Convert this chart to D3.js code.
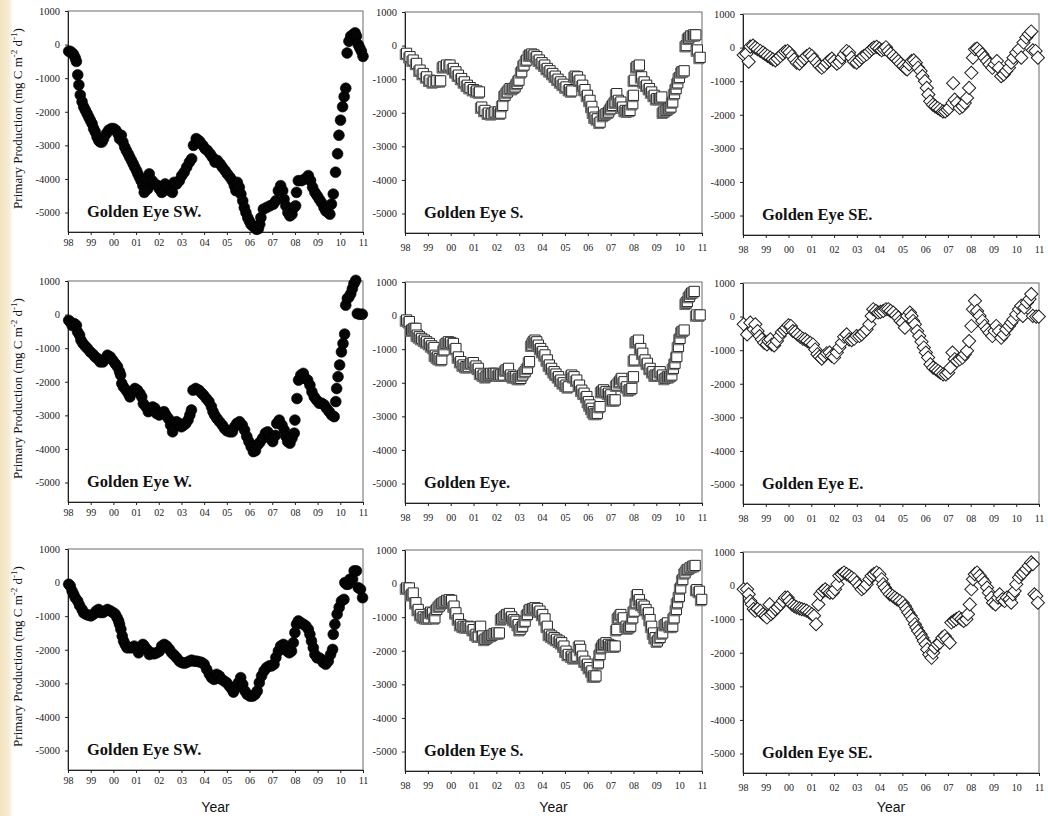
<!DOCTYPE html>
<html>
<head>
<meta charset="utf-8">
<script src="https://cdn.jsdelivr.net/npm/d3@7"></script>
<style>
  html, body { margin: 0; padding: 0; background: #ffffff; }
  svg { display: block; }
</style>
</head>
<body>
<svg id="chart" width="1048" height="816"></svg>
<script>
// ---- axis ticks ----
const yearTicks = d3.range(1998, 2012);
const valueTicks = [1000, 0, -1000, -2000, -3000, -4000, -5000];
const valueDomain = [-5580, 1000];

// ---- panel titles (row by row) ----
const panelTitles = [
  "Golden Eye SW.", "Golden Eye S.", "Golden Eye SE.",
  "Golden Eye W.", "Golden Eye.", "Golden Eye E.",
  "Golden Eye SW.", "Golden Eye S.", "Golden Eye SE."
];

// ---- series: [decimal year, primary production (mg C m-2 d-1)] ----
const swTop = [
[1998.03,-200],[1998.10,-200],[1998.18,-250],[1998.25,-300],[1998.32,-400],[1998.37,-500],[1998.43,-900],[1998.48,-1200],
[1998.54,-1500],[1998.62,-1700],[1998.69,-1850],[1998.76,-1950],[1998.84,-2050],[1998.91,-2150],[1998.98,-2250],[1999.06,-2350],
[1999.13,-2500],[1999.20,-2600],[1999.28,-2750],[1999.35,-2850],[1999.42,-2900],[1999.50,-2900],[1999.57,-2800],[1999.69,-2650],
[1999.79,-2550],[1999.91,-2500],[2000.01,-2500],[2000.11,-2550],[2000.20,-2650],[2000.27,-2800],[2000.35,-2700],[2000.42,-2900],
[2000.50,-3050],[2000.57,-3150],[2000.65,-3250],[2000.72,-3350],[2000.80,-3450],[2000.87,-3550],[2000.94,-3650],[2001.02,-3750],
[2001.08,-3850],[2001.15,-3950],[2001.22,-4050],[2001.30,-4200],[2001.36,-4400],[2001.45,-4000],[2001.51,-4300],[2001.58,-3850],
[2001.70,-4050],[2001.84,-4150],[2001.94,-4200],[2002.03,-4300],[2002.13,-4400],[2002.21,-4350],[2002.28,-4150],[2002.38,-4250],
[2002.50,-4350],[2002.60,-4400],[2002.68,-4100],[2002.79,-4150],[2002.91,-4050],[2003.01,-3900],[2003.12,-3800],[2003.23,-3650],
[2003.35,-3500],[2003.45,-3400],[2003.53,-3000],[2003.65,-2800],[2003.75,-2850],[2003.82,-2900],[2003.94,-3000],[2004.04,-3100],
[2004.14,-3150],[2004.26,-3250],[2004.36,-3350],[2004.48,-3500],[2004.58,-3450],[2004.70,-3550],[2004.80,-3650],[2004.92,-3750],
[2005.02,-3850],[2005.14,-3950],[2005.24,-4050],[2005.33,-4200],[2005.40,-4350],[2005.46,-4100],[2005.55,-4250],[2005.62,-4450],
[2005.70,-4650],[2005.77,-4850],[2005.84,-5000],[2005.92,-5150],[2005.99,-5250],[2006.06,-5350],[2006.14,-5400],[2006.23,-5450],
[2006.31,-5500],[2006.39,-5480],[2006.45,-5350],[2006.50,-5150],[2006.61,-4900],[2006.75,-4850],[2006.90,-4800],[2007.05,-4750],
[2007.16,-4650],[2007.27,-4350],[2007.37,-4200],[2007.46,-4350],[2007.52,-4600],[2007.60,-4800],[2007.69,-5000],[2007.78,-5100],
[2007.87,-5050],[2007.96,-4850],[2008.03,-4800],[2008.07,-4400],[2008.15,-4050],[2008.29,-4050],[2008.44,-4000],[2008.59,-3900],
[2008.69,-4050],[2008.78,-4250],[2008.88,-4400],[2008.98,-4500],[2009.07,-4600],[2009.17,-4700],[2009.28,-4850],[2009.36,-4950],
[2009.47,-5000],[2009.54,-5050],[2009.61,-4750],[2009.69,-4450],[2009.79,-3800],[2009.88,-3250],[2009.94,-2700],[2010.01,-2250],
[2010.10,-1850],[2010.17,-1550],[2010.24,-1300],[2010.30,-250],[2010.38,100],[2010.46,250],[2010.57,300],[2010.65,350],
[2010.71,250],[2010.79,0],[2010.86,-100],[2010.93,-200],[2011.00,-350]
];

const sTop = [
[1998.07,-230],[1998.22,-330],[1998.36,-430],[1998.51,-530],[1998.66,-730],[1998.80,-830],[1998.95,-930],[1999.09,-1030],
[1999.24,-1080],[1999.39,-1050],[1999.56,-1050],[1999.68,-630],[1999.82,-580],[1999.97,-580],[2000.12,-680],[2000.23,-780],
[2000.34,-880],[2000.48,-980],[2000.60,-1080],[2000.73,-1180],[2000.85,-1250],[2001.00,-1310],[2001.14,-1350],[2001.26,-1380],
[2001.36,-1830],[2001.50,-1930],[2001.65,-2010],[2001.80,-2030],[2001.94,-1980],[2002.09,-1980],[2002.19,-2010],[2002.28,-1780],
[2002.38,-1480],[2002.48,-1380],[2002.60,-1280],[2002.72,-1280],[2002.82,-1230],[2002.91,-1130],[2002.99,-1030],[2003.11,-780],
[2003.21,-580],[2003.33,-430],[2003.45,-280],[2003.55,-250],[2003.65,-280],[2003.77,-330],[2003.88,-430],[2004.00,-510],
[2004.12,-580],[2004.23,-680],[2004.35,-750],[2004.47,-830],[2004.58,-910],[2004.70,-1000],[2004.82,-1080],[2004.93,-1150],
[2005.05,-1230],[2005.20,-1310],[2005.30,-1350],[2005.45,-910],[2005.55,-930],[2005.66,-1030],[2005.78,-1180],[2005.88,-1310],
[2005.99,-1480],[2006.10,-1630],[2006.18,-1810],[2006.25,-1980],[2006.32,-2130],[2006.42,-2180],[2006.54,-2280],[2006.69,-2080],
[2006.80,-2030],[2006.91,-1980],[2007.01,-1880],[2007.09,-1780],[2007.20,-1680],[2007.27,-1430],[2007.34,-1630],[2007.45,-1680],
[2007.53,-1830],[2007.64,-1930],[2007.74,-1950],[2007.85,-1930],[2007.97,-1730],[2008.00,-1480],[2008.04,-1030],[2008.15,-630],
[2008.26,-580],[2008.36,-930],[2008.47,-1080],[2008.58,-1180],[2008.70,-1280],[2008.80,-1380],[2008.91,-1480],[2009.02,-1580],
[2009.14,-1580],[2009.24,-1530],[2009.31,-1980],[2009.43,-1930],[2009.53,-1880],[2009.64,-1830],[2009.72,-1680],[2009.80,-1430],
[2009.87,-1280],[2009.94,-1110],[2010.01,-950],[2010.12,-780],[2010.22,-750],[2010.31,0],[2010.41,220],[2010.51,290],
[2010.63,320],[2010.73,320],[2010.80,-130],[2010.92,-350]
];

const seTop = [
[1998.03,-220],[1998.15,-180],[1998.25,-420],[1998.32,30],[1998.44,60],[1998.54,0],[1998.64,-50],[1998.76,-100],
[1998.88,-150],[1998.98,-200],[1999.08,-250],[1999.20,-300],[1999.31,-350],[1999.42,-380],[1999.52,-330],[1999.64,-250],
[1999.75,-180],[1999.85,-120],[1999.96,-100],[2000.04,-150],[2000.15,-250],[2000.25,-350],[2000.36,-450],[2000.48,-480],
[2000.58,-400],[2000.69,-320],[2000.80,-250],[2000.92,-200],[2001.02,-250],[2001.12,-350],[2001.24,-450],[2001.36,-550],
[2001.46,-600],[2001.56,-550],[2001.68,-450],[2001.80,-380],[2001.90,-330],[2002.00,-400],[2002.12,-480],[2002.23,-430],
[2002.34,-300],[2002.44,-200],[2002.55,-100],[2002.66,-150],[2002.77,-300],[2002.88,-420],[2002.99,-450],[2003.11,-380],
[2003.21,-300],[2003.31,-250],[2003.43,-200],[2003.55,-120],[2003.65,-50],[2003.75,0],[2003.87,20],[2003.99,-30],
[2004.09,-80],[2004.19,-50],[2004.28,10],[2004.38,-100],[2004.48,-180],[2004.60,-250],[2004.72,-330],[2004.82,-400],
[2004.92,-480],[2005.04,-550],[2005.14,-620],[2005.21,-650],[2005.30,-500],[2005.40,-400],[2005.50,-380],[2005.59,-450],
[2005.69,-600],[2005.80,-700],[2005.88,-850],[2005.99,-1000],[2006.07,-1200],[2006.14,-1400],[2006.22,-1600],[2006.34,-1700],
[2006.44,-1750],[2006.55,-1800],[2006.66,-1850],[2006.78,-1900],[2006.88,-1900],[2006.98,-1850],[2007.05,-1800],[2007.23,-1060],
[2007.20,-1650],[2007.30,-1550],[2007.40,-1650],[2007.52,-1800],[2007.64,-1750],[2007.74,-1650],[2007.84,-1500],[2007.93,-1200],
[2008.03,-750],[2008.10,-300],[2008.19,-50],[2008.28,-30],[2008.39,-100],[2008.51,-200],[2008.61,-300],[2008.72,-400],
[2008.83,-500],[2008.95,-600],[2009.05,-500],[2009.15,-400],[2009.24,-600],[2009.34,-850],[2009.45,-800],[2009.56,-700],
[2009.68,-600],[2009.78,-450],[2009.88,-300],[2010.00,-150],[2010.12,-50],[2010.22,-300],[2010.32,150],[2010.44,300],
[2010.55,400],[2010.66,480],[2010.73,-80],[2010.85,-100],[2010.95,-300]
];

const wMid = [
[1998.03,-170],[1998.10,-220],[1998.18,-320],[1998.28,-270],[1998.37,-320],[1998.42,-510],[1998.51,-610],[1998.57,-760],
[1998.66,-860],[1998.76,-940],[1998.86,-1010],[1998.98,-1110],[1999.10,-1180],[1999.20,-1260],[1999.30,-1310],[1999.42,-1410],
[1999.54,-1410],[1999.64,-1310],[1999.74,-1210],[1999.86,-1260],[1999.97,-1360],[2000.08,-1460],[2000.18,-1550],[2000.27,-1700],
[2000.32,-1800],[2000.37,-2050],[2000.44,-2150],[2000.56,-2250],[2000.66,-2350],[2000.73,-2450],[2000.85,-2300],[2000.95,-2200],
[2001.06,-2250],[2001.17,-2350],[2001.25,-2450],[2001.32,-2650],[2001.44,-2750],[2001.54,-2890],[2001.64,-2840],[2001.73,-2750],
[2001.83,-2790],[2001.90,-2940],[2002.02,-2990],[2002.12,-2940],[2002.23,-2890],[2002.31,-2990],[2002.42,-3090],[2002.52,-3290],
[2002.61,-3490],[2002.69,-3290],[2002.78,-3190],[2002.90,-3240],[2003.00,-3340],[2003.10,-3290],[2003.19,-3240],[2003.29,-3140],
[2003.37,-2990],[2003.44,-2840],[2003.51,-2250],[2003.63,-2200],[2003.77,-2250],[2003.88,-2330],[2003.98,-2400],[2004.10,-2500],
[2004.21,-2590],[2004.32,-2740],[2004.39,-2890],[2004.46,-2990],[2004.56,-3090],[2004.68,-3190],[2004.80,-3290],[2004.90,-3390],
[2005.00,-3460],[2005.12,-3490],[2005.24,-3490],[2005.34,-3340],[2005.44,-3240],[2005.56,-3190],[2005.68,-3290],[2005.78,-3440],
[2005.88,-3630],[2005.97,-3780],[2006.07,-3930],[2006.17,-4080],[2006.26,-4050],[2006.36,-3880],[2006.46,-3800],[2006.58,-3680],
[2006.70,-3530],[2006.80,-3490],[2006.90,-3680],[2007.02,-3780],[2007.14,-3600],[2007.20,-3240],[2007.31,-3140],[2007.43,-3290],
[2007.53,-3440],[2007.61,-3630],[2007.68,-3780],[2007.78,-3830],[2007.87,-3680],[2007.97,-3530],[2008.00,-3140],[2008.09,-2500],
[2008.16,-1950],[2008.26,-1800],[2008.37,-1750],[2008.45,-1900],[2008.56,-1950],[2008.66,-2100],[2008.75,-2300],[2008.85,-2450],
[2008.95,-2540],[2009.07,-2640],[2009.18,-2640],[2009.29,-2690],[2009.39,-2790],[2009.51,-2890],[2009.62,-2990],[2009.73,-3040],
[2009.80,-2590],[2009.84,-2200],[2009.90,-1850],[2009.97,-1500],[2010.05,-1110],[2010.12,-860],[2010.19,-580],[2010.24,280],
[2010.31,480],[2010.38,520],[2010.46,620],[2010.53,770],[2010.60,920],[2010.68,1020],[2010.75,30],[2010.85,10],[2010.97,10]
];

const allMid = [
[1998.07,-130],[1998.19,-180],[1998.29,-430],[1998.39,-380],[1998.48,-380],[1998.54,-580],[1998.63,-630],[1998.73,-680],
[1998.85,-730],[1998.95,-780],[1999.07,-830],[1999.17,-900],[1999.27,-950],[1999.33,-1180],[1999.42,-1230],[1999.50,-1280],
[1999.61,-1310],[1999.71,-1020],[1999.80,-830],[1999.90,-780],[2000.00,-800],[2000.12,-830],[2000.23,-980],[2000.34,-1230],
[2000.44,-1370],[2000.55,-1470],[2000.67,-1520],[2000.77,-1520],[2000.88,-1420],[2000.99,-1400],[2001.11,-1500],[2001.21,-1570],
[2001.31,-1720],[2001.43,-1770],[2001.55,-1820],[2001.65,-1770],[2001.75,-1720],[2001.87,-1720],[2001.99,-1720],[2002.09,-1770],
[2002.19,-1770],[2002.31,-1770],[2002.42,-1620],[2002.53,-1570],[2002.63,-1770],[2002.74,-1820],[2002.85,-1820],[2002.96,-1870],
[2003.07,-1870],[2003.15,-1770],[2003.26,-1670],[2003.36,-1570],[2003.45,-1370],[2003.55,-880],[2003.62,-780],[2003.69,-730],
[2003.77,-780],[2003.84,-880],[2003.94,-980],[2004.03,-1070],[2004.13,-1170],[2004.23,-1320],[2004.32,-1470],[2004.42,-1570],
[2004.53,-1670],[2004.61,-1740],[2004.72,-1820],[2004.82,-1920],[2004.93,-2000],[2005.05,-2070],[2005.15,-2120],[2005.30,-1770],
[2005.40,-1820],[2005.52,-1920],[2005.64,-2070],[2005.74,-2220],[2005.84,-2310],[2005.96,-2410],[2006.03,-2560],[2006.10,-2660],
[2006.18,-2760],[2006.25,-2860],[2006.32,-2910],[2006.42,-2910],[2006.54,-2710],[2006.61,-2260],[2006.69,-2210],[2006.80,-2260],
[2006.91,-2310],[2007.01,-2360],[2007.09,-2510],[2007.20,-2510],[2007.27,-2070],[2007.39,-1970],[2007.49,-1870],[2007.59,-1970],
[2007.71,-2120],[2007.82,-2210],[2007.93,-2170],[2008.00,-1820],[2008.04,-1320],[2008.12,-780],[2008.22,-730],[2008.32,-980],
[2008.41,-1120],[2008.51,-1320],[2008.61,-1420],[2008.73,-1570],[2008.85,-1670],[2008.95,-1770],[2009.05,-1770],[2009.17,-1670],
[2009.28,-1770],[2009.39,-1870],[2009.49,-1820],[2009.58,-1820],[2009.68,-1770],[2009.75,-1570],[2009.82,-1420],[2009.90,-1220],
[2009.97,-920],[2010.04,-680],[2010.12,-480],[2010.22,-430],[2010.31,370],[2010.36,420],[2010.45,570],[2010.55,670],
[2010.66,720],[2010.77,20],[2010.92,20]
];

const eMid = [
[1998.03,-230],[1998.18,-530],[1998.32,-180],[1998.47,-380],[1998.54,-230],[1998.64,-430],[1998.73,-580],[1998.83,-680],
[1998.93,-780],[1999.05,-830],[1999.12,-730],[1999.20,-680],[1999.27,-830],[1999.37,-860],[1999.49,-730],[1999.61,-580],
[1999.71,-460],[1999.81,-400],[1999.90,-330],[2000.00,-260],[2000.10,-280],[2000.19,-430],[2000.29,-460],[2000.39,-530],
[2000.51,-600],[2000.63,-660],[2000.73,-680],[2000.83,-730],[2000.95,-780],[2001.07,-830],[2001.17,-980],[2001.27,-1120],
[2001.36,-1190],[2001.46,-1250],[2001.56,-1170],[2001.68,-1090],[2001.80,-1070],[2001.90,-1170],[2002.00,-1220],[2002.12,-1070],
[2002.23,-920],[2002.34,-780],[2002.44,-600],[2002.55,-530],[2002.66,-680],[2002.77,-700],[2002.88,-660],[2002.99,-580],
[2003.11,-580],[2003.21,-530],[2003.31,-460],[2003.43,-380],[2003.55,-230],[2003.65,20],[2003.72,220],[2003.84,170],
[2003.94,120],[2004.04,140],[2004.16,170],[2004.28,220],[2004.38,220],[2004.48,170],[2004.60,120],[2004.72,40],
[2004.82,-30],[2004.92,-130],[2005.01,-180],[2005.11,-330],[2005.21,20],[2005.33,120],[2005.40,20],[2005.47,-130],
[2005.55,-230],[2005.65,-430],[2005.74,-580],[2005.84,-750],[2005.94,-920],[2006.03,-1070],[2006.13,-1220],[2006.23,-1420],
[2006.35,-1520],[2006.47,-1570],[2006.57,-1620],[2006.67,-1670],[2006.79,-1720],[2006.91,-1720],[2007.01,-1670],[2007.11,-1520],
[2007.20,-1070],[2007.30,-1270],[2007.40,-1320],[2007.52,-1270],[2007.64,-1220],[2007.74,-1120],[2007.84,-1020],[2007.93,-730],
[2008.03,-280],[2008.10,220],[2008.19,470],[2008.28,170],[2008.39,20],[2008.51,-130],[2008.61,-280],[2008.72,-380],
[2008.83,-480],[2008.95,-580],[2009.05,-430],[2009.12,-280],[2009.24,-430],[2009.34,-630],[2009.45,-530],[2009.56,-380],
[2009.68,-280],[2009.78,-180],[2009.88,-80],[2010.00,70],[2010.12,220],[2010.22,320],[2010.29,20],[2010.36,270],
[2010.47,420],[2010.58,520],[2010.66,670],[2010.73,20],[2010.88,0],[2010.99,0]
];

const swBottom = [
[1998.03,-50],[1998.10,-100],[1998.18,-250],[1998.25,-350],[1998.32,-450],[1998.43,-550],[1998.51,-680],[1998.62,-800],
[1998.69,-900],[1998.81,-950],[1998.91,-970],[1999.01,-990],[1999.13,-940],[1999.25,-840],[1999.35,-800],[1999.42,-890],
[1999.54,-890],[1999.64,-840],[1999.74,-800],[1999.86,-840],[1999.98,-890],[2000.08,-940],[2000.16,-1040],[2000.23,-1140],
[2000.27,-1240],[2000.33,-1390],[2000.39,-1590],[2000.45,-1740],[2000.52,-1840],[2000.60,-1940],[2000.71,-1940],[2000.82,-1940],
[2000.92,-1890],[2001.04,-1940],[2001.11,-2090],[2001.18,-1940],[2001.30,-1840],[2001.36,-1890],[2001.48,-1990],[2001.59,-2140],
[2001.70,-2090],[2001.80,-2120],[2001.91,-2090],[2002.03,-2040],[2002.13,-1890],[2002.24,-1840],[2002.35,-1890],[2002.47,-1990],
[2002.57,-2090],[2002.68,-2160],[2002.79,-2240],[2002.91,-2340],[2003.01,-2380],[2003.12,-2400],[2003.23,-2380],[2003.35,-2340],
[2003.45,-2310],[2003.56,-2340],[2003.67,-2340],[2003.79,-2360],[2003.89,-2380],[2004.00,-2430],[2004.11,-2580],[2004.23,-2730],
[2004.33,-2830],[2004.44,-2880],[2004.55,-2730],[2004.67,-2780],[2004.77,-2880],[2004.88,-2930],[2004.99,-2980],[2005.11,-3080],
[2005.21,-3160],[2005.29,-3260],[2005.40,-3130],[2005.51,-2980],[2005.61,-2830],[2005.70,-3030],[2005.80,-3230],[2005.90,-3330],
[2006.02,-3380],[2006.14,-3380],[2006.24,-3330],[2006.34,-3230],[2006.43,-2980],[2006.53,-2780],[2006.64,-2630],[2006.75,-2530],
[2006.87,-2480],[2006.97,-2480],[2007.08,-2430],[2007.16,-2230],[2007.27,-2040],[2007.37,-1890],[2007.49,-1840],[2007.60,-1890],
[2007.66,-2040],[2007.75,-2090],[2007.85,-2040],[2007.93,-1790],[2008.00,-1490],[2008.07,-1240],[2008.15,-1140],[2008.25,-1190],
[2008.37,-1240],[2008.48,-1290],[2008.59,-1390],[2008.66,-1540],[2008.73,-1740],[2008.81,-1940],[2008.88,-2140],[2008.98,-2240],
[2009.07,-2240],[2009.17,-2290],[2009.25,-2380],[2009.36,-2430],[2009.47,-2340],[2009.57,-2140],[2009.66,-1990],[2009.69,-1540],
[2009.76,-1240],[2009.86,-940],[2009.95,-740],[2010.05,-550],[2010.16,-500],[2010.20,0],[2010.27,-50],[2010.35,-50],
[2010.42,100],[2010.54,100],[2010.61,350],[2010.71,350],[2010.79,-150],[2010.89,-200],[2010.98,-450]
];

const sBottom = [
[1998.07,-130],[1998.19,-130],[1998.29,-330],[1998.36,-280],[1998.48,-570],[1998.58,-770],[1998.69,-920],[1998.80,-990],
[1998.92,-1020],[1999.02,-1020],[1999.12,-850],[1999.21,-870],[1999.31,-1020],[1999.39,-770],[1999.50,-670],[1999.61,-590],
[1999.71,-550],[1999.82,-500],[1999.94,-480],[2000.04,-500],[2000.15,-670],[2000.23,-870],[2000.34,-1050],[2000.44,-1220],
[2000.55,-1270],[2000.67,-1290],[2000.77,-1270],[2000.88,-1290],[2000.99,-1370],[2001.11,-1510],[2001.21,-1560],[2001.31,-1270],
[2001.40,-1560],[2001.50,-1660],[2001.61,-1610],[2001.69,-1560],[2001.80,-1540],[2001.90,-1490],[2002.01,-1470],[2002.13,-1470],
[2002.23,-1050],[2002.34,-990],[2002.45,-920],[2002.57,-890],[2002.67,-990],[2002.77,-1070],[2002.86,-1120],[2002.96,-1220],
[2003.04,-1370],[2003.15,-1270],[2003.26,-1120],[2003.36,-920],[2003.47,-770],[2003.59,-740],[2003.69,-720],[2003.80,-740],
[2003.91,-820],[2004.03,-920],[2004.13,-1050],[2004.23,-1270],[2004.32,-1510],[2004.42,-1560],[2004.53,-1610],[2004.64,-1660],
[2004.76,-1710],[2004.86,-1760],[2004.96,-1860],[2005.05,-2010],[2005.15,-2110],[2005.30,-2160],[2005.40,-2210],[2005.52,-2160],
[2005.64,-1860],[2005.69,-1960],[2005.78,-2160],[2005.88,-2310],[2005.99,-2400],[2006.07,-2500],[2006.18,-2600],[2006.25,-2750],
[2006.36,-2750],[2006.47,-2360],[2006.54,-2110],[2006.61,-1910],[2006.69,-1810],[2006.80,-1760],[2006.91,-1810],[2007.01,-1840],
[2007.09,-1860],[2007.20,-1860],[2007.27,-1370],[2007.34,-1020],[2007.45,-920],[2007.56,-1020],[2007.68,-1270],[2007.78,-1320],
[2007.88,-1270],[2007.97,-1020],[2008.03,-820],[2008.12,-570],[2008.18,-330],[2008.26,-480],[2008.36,-620],[2008.47,-670],
[2008.55,-770],[2008.66,-870],[2008.73,-1070],[2008.80,-1270],[2008.88,-1470],[2008.95,-1610],[2009.05,-1710],[2009.17,-1600],
[2009.28,-1470],[2009.39,-1220],[2009.49,-1170],[2009.61,-1270],[2009.72,-1270],[2009.78,-1020],[2009.88,-770],[2009.93,-570],
[2010.01,-380],[2010.07,-130],[2010.16,120],[2010.26,320],[2010.36,420],[2010.48,470],[2010.60,520],[2010.70,540],
[2010.77,-180],[2010.89,-230],[2010.99,-470]
];

const seBottom = [
[1998.03,-110],[1998.18,-110],[1998.25,-260],[1998.32,-460],[1998.39,-560],[1998.47,-700],[1998.54,-750],[1998.64,-700],
[1998.76,-750],[1998.88,-850],[1998.98,-900],[1999.05,-950],[1999.17,-560],[1999.23,-850],[1999.31,-800],[1999.42,-700],
[1999.52,-650],[1999.64,-560],[1999.75,-460],[1999.85,-360],[1999.96,-360],[2000.04,-460],[2000.15,-560],[2000.25,-610],
[2000.36,-650],[2000.48,-680],[2000.58,-700],[2000.69,-720],[2000.80,-750],[2000.92,-800],[2001.02,-850],[2001.12,-900],
[2001.21,-1150],[2001.31,-560],[2001.39,-260],[2001.50,-160],[2001.61,-110],[2001.71,-160],[2001.82,-210],[2001.94,-210],
[2002.04,-110],[2002.15,40],[2002.23,290],[2002.34,340],[2002.44,390],[2002.55,340],[2002.67,290],[2002.77,240],
[2002.88,190],[2002.99,90],[2003.11,-10],[2003.21,-110],[2003.31,-60],[2003.43,40],[2003.55,190],[2003.65,290],
[2003.75,340],[2003.87,390],[2003.99,340],[2004.09,190],[2004.16,40],[2004.23,-60],[2004.34,-160],[2004.45,-260],
[2004.57,-310],[2004.67,-360],[2004.77,-410],[2004.89,-460],[2005.01,-510],[2005.11,-610],[2005.18,-700],[2005.26,-800],
[2005.36,-900],[2005.45,-1000],[2005.55,-1150],[2005.62,-1250],[2005.69,-1350],[2005.80,-1450],[2005.88,-1550],[2005.94,-1650],
[2006.03,-1750],[2006.09,-1900],[2006.18,-2050],[2006.28,-2150],[2006.35,-2000],[2006.42,-1850],[2006.53,-1750],[2006.64,-1700],
[2006.76,-1550],[2006.86,-1500],[2006.96,-1600],[2007.08,-1700],[2007.15,-1100],[2007.26,-1050],[2007.37,-1000],[2007.49,-950],
[2007.59,-1000],[2007.69,-1050],[2007.81,-1000],[2007.88,-850],[2007.96,-560],[2008.03,-110],[2008.10,190],[2008.18,340],
[2008.28,390],[2008.39,290],[2008.51,190],[2008.61,90],[2008.72,-60],[2008.80,-210],[2008.91,-360],[2008.98,-510],
[2009.09,-560],[2009.20,-360],[2009.27,-260],[2009.39,-410],[2009.49,-460],[2009.59,-360],[2009.71,-410],[2009.78,-510],
[2009.85,-260],[2009.93,-160],[2010.00,40],[2010.12,240],[2010.22,340],[2010.32,390],[2010.44,490],[2010.55,590],
[2010.66,690],[2010.73,640],[2010.80,-260],[2010.88,-310],[2010.95,-510]
];

// ---- page layout ----
const colLeft = [68, 405, 743];
const colRight = [363, 702, 1039];
const panelTops = [[11, 12, 14], [281, 282, 283], [549, 550, 552]];
const plotHeight = 221;
const xLabelPad = [3.5, 7.5, 7.5];

const panels = [
  { data: swTop,    marker: "circle",  row: 0, col: 0 },
  { data: sTop,     marker: "square",  row: 0, col: 1 },
  { data: seTop,    marker: "diamond", row: 0, col: 2 },
  { data: wMid,     marker: "circle",  row: 1, col: 0 },
  { data: allMid,   marker: "square",  row: 1, col: 1 },
  { data: eMid,     marker: "diamond", row: 1, col: 2 },
  { data: swBottom, marker: "circle",  row: 2, col: 0 },
  { data: sBottom,  marker: "square",  row: 2, col: 1 },
  { data: seBottom, marker: "diamond", row: 2, col: 2 }
];

const serif = "'Liberation Serif', 'Times New Roman', Times, serif";
const sans = "'Liberation Sans', Arial, Helvetica, sans-serif";

const svg = d3.select("#chart");

// soft beige strip along the left edge of the page
const defs = svg.append("defs");
const grad = defs.append("linearGradient").attr("id", "edgeStrip")
  .attr("x1", "0").attr("x2", "1").attr("y1", "0").attr("y2", "0");
grad.append("stop").attr("offset", "0").attr("stop-color", "#f2e2bc");
grad.append("stop").attr("offset", "0.7").attr("stop-color", "#f7edd5");
grad.append("stop").attr("offset", "1").attr("stop-color", "#ffffff");
svg.append("rect").attr("x", 0).attr("y", 0).attr("width", 13).attr("height", 816)
  .attr("fill", "url(#edgeStrip)");

const symbolPaths = {
  circle: d3.symbol().type(d3.symbolCircle).size(Math.PI * 5.4 * 5.4)(),
  square: d3.symbol().type(d3.symbolSquare).size(104)(),
  diamond: d3.symbol().type(d3.symbolSquare).size(2 * 6.6 * 6.6)()
};

panels.forEach((p, i) => {
  const left = colLeft[p.col], right = colRight[p.col];
  const top = panelTops[p.row][p.col], bottom = top + plotHeight;

  const x = d3.scaleLinear().domain([1998, 2011]).range([left, right]);
  const y = d3.scaleLinear().domain(valueDomain).range([bottom, top]);

  const g = svg.append("g").attr("class", "panel");

  // plot frame
  g.append("rect")
    .attr("x", left).attr("y", top)
    .attr("width", right - left).attr("height", bottom - top)
    .attr("fill", "none").attr("stroke", "#6b6b6b").attr("stroke-width", 1);

  // value axis
  const yAxis = g.append("g")
    .attr("transform", `translate(${left},0)`)
    .call(d3.axisLeft(y).tickValues(valueTicks).tickSize(3).tickSizeOuter(0)
      .tickPadding(5).tickFormat(d => String(d)));
  yAxis.select(".domain").attr("stroke", "#222");
  yAxis.selectAll(".tick line").attr("stroke", "#222");
  yAxis.selectAll("text").attr("font-family", serif).attr("font-size", 10.5).attr("fill", "#1c1c1c");

  // year axis
  const xAxis = g.append("g")
    .attr("transform", `translate(0,${bottom})`)
    .call(d3.axisBottom(x).tickValues(yearTicks).tickSize(3).tickSizeOuter(0)
      .tickPadding(xLabelPad[p.col]).tickFormat(d => String(d % 100).padStart(2, "0")));
  xAxis.select(".domain").attr("stroke", "#222");
  xAxis.selectAll(".tick line").attr("stroke", "#222");
  xAxis.selectAll("text").attr("font-family", serif).attr("font-size", 10).attr("fill", "#1c1c1c");

  // markers: one group per observation so each marker keeps its own shading
  const marks = g.append("g").selectAll("g").data(p.data).join("g")
    .attr("transform", d => `translate(${x(d[0])},${y(d[1])})`);
  if (p.marker === "circle") {
    marks.append("path").attr("d", symbolPaths.circle)
      .attr("fill", "#050505").attr("stroke", "#000").attr("stroke-width", 0.6);
  } else if (p.marker === "square") {
    marks.append("path").attr("d", symbolPaths.square)
      .attr("transform", "translate(-1.3,1.3)")
      .attr("fill", "#9a9a9a").attr("stroke", "#555").attr("stroke-width", 0.8);
    marks.append("path").attr("d", symbolPaths.square)
      .attr("fill", "#ffffff").attr("stroke", "#2a2a2a").attr("stroke-width", 1);
  } else {
    marks.append("path").attr("d", symbolPaths.diamond)
      .attr("transform", "rotate(45)")
      .attr("fill", "#ffffff").attr("stroke", "#1e1e1e").attr("stroke-width", 1);
  }

  // panel title
  g.append("text")
    .attr("x", left + 19).attr("y", bottom - 15)
    .attr("font-family", serif).attr("font-weight", "bold").attr("font-size", 16.5)
    .attr("fill", "#111")
    .text(panelTitles[i]);

  // value axis title on the first column
  if (p.col === 0) {
    const t = g.append("text")
      .attr("transform", `translate(22,${(top + bottom) / 2 - 3}) rotate(-90)`)
      .attr("text-anchor", "middle")
      .attr("font-family", serif).attr("font-size", 13).attr("fill", "#111");
    t.append("tspan").text("Primary Production (mg C m");
    t.append("tspan").attr("baseline-shift", "super").attr("font-size", 9).text("-2");
    t.append("tspan").text(" d");
    t.append("tspan").attr("baseline-shift", "super").attr("font-size", 9).text("-1");
    t.append("tspan").text(")");
  }

  // year label under the bottom row
  if (p.row === 2) {
    g.append("text")
      .attr("x", (left + right) / 2).attr("y", 812)
      .attr("text-anchor", "middle")
      .attr("font-family", sans).attr("font-size", 14).attr("fill", "#111")
      .text("Year");
  }
});
</script>
</body>
</html>
